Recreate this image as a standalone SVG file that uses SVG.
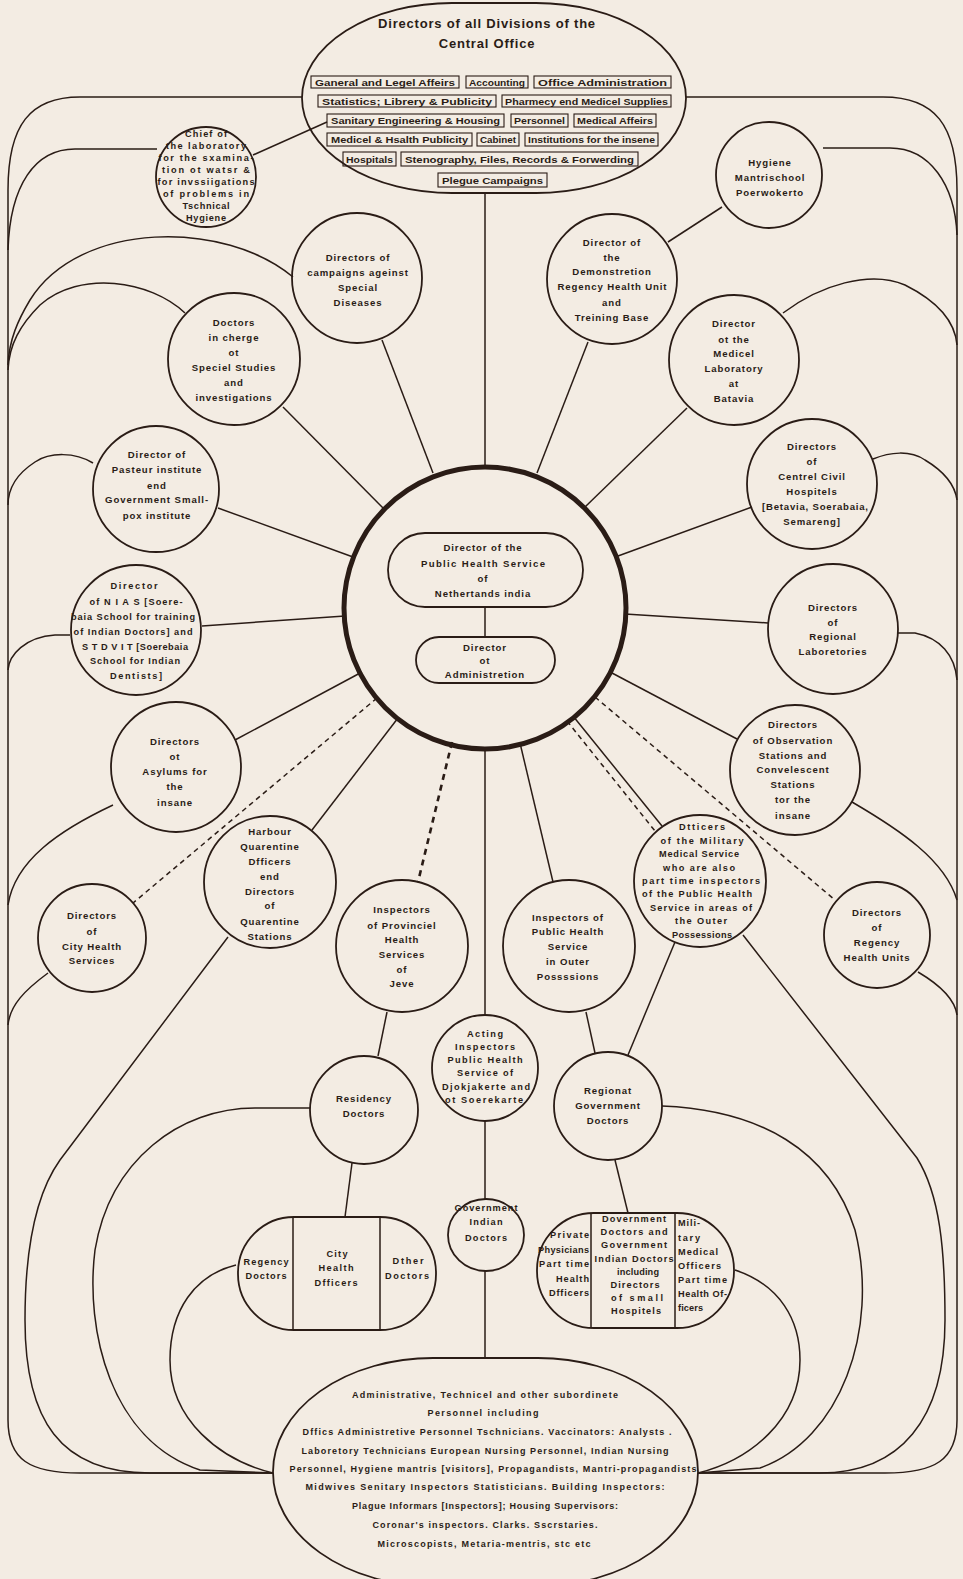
<svg xmlns="http://www.w3.org/2000/svg" width="963" height="1579" viewBox="0 0 963 1579">
<style>
.o{fill:none;stroke:#2a1c16;stroke-width:1.8}
.c{fill:none;stroke:#2a1c16;stroke-width:1.5}
.d{stroke-dasharray:5 4}
.dt{stroke-dasharray:6 5;stroke-width:2.6}
.b{fill:none;stroke:#2a1c16;stroke-width:1.1}
text{font-family:"Liberation Sans",Arial,sans-serif;font-size:9.6px;font-weight:bold;fill:#2a1c16;text-anchor:middle;letter-spacing:0.9px}
.t{font-size:13px;letter-spacing:0.8px}
.s{font-size:9.2px;letter-spacing:0}
.bx{font-size:9.5px;letter-spacing:0}
.e{text-anchor:end}
.st{text-anchor:start}
</style>
<rect width="963" height="1579" fill="#f3ece3"/>

<g id="connectors">
<line class="c" x1="485" y1="193" x2="485" y2="467"/>
<line class="c" x1="382" y1="340" x2="433" y2="473"/>
<line class="c" x1="283" y1="407" x2="383" y2="508"/>
<line class="c" x1="218" y1="508" x2="353" y2="557"/>
<line class="c" x1="202" y1="626" x2="345" y2="616"/>
<line class="c" x1="235" y1="740" x2="362" y2="672"/>
<line class="c d" x1="377" y1="698" x2="133" y2="903"/>
<line class="c" x1="398" y1="718" x2="312" y2="830"/>
<line class="c dt" x1="452" y1="742" x2="418" y2="882"/>
<line class="c" x1="485" y1="749" x2="485" y2="1015"/>
<line class="c" x1="520" y1="743" x2="553" y2="882"/>
<line class="c" x1="573" y1="716" x2="662" y2="826"/>
<line class="c d" x1="567" y1="721" x2="655" y2="831"/>
<line class="c d" x1="595" y1="697" x2="835" y2="900"/>
<line class="c" x1="612" y1="673" x2="737" y2="739"/>
<line class="c" x1="625" y1="614" x2="768" y2="623"/>
<line class="c" x1="618" y1="556" x2="752" y2="507"/>
<line class="c" x1="585" y1="507" x2="687" y2="408"/>
<line class="c" x1="537" y1="473" x2="588" y2="342"/>
<line class="c" x1="668" y1="242" x2="722" y2="207"/>
<line class="c" x1="253" y1="155" x2="327" y2="122"/>
<line class="c" x1="387" y1="1012" x2="378" y2="1056"/>
<line class="c" x1="586" y1="1012" x2="595" y2="1053"/>
<line class="c" x1="675" y1="942" x2="628" y2="1055"/>
<line class="c" x1="485" y1="1121" x2="485" y2="1199"/>
<line class="c" x1="352" y1="1163" x2="345" y2="1217"/>
<line class="c" x1="615" y1="1160" x2="628" y2="1213"/>
<line class="c" x1="485" y1="1271" x2="485" y2="1358"/>
<line class="c" x1="485" y1="607" x2="485" y2="637"/>
<path class="c" d="M302,97 H80 C30,97 8,125 8,190 V1420 C8,1460 30,1473 80,1473 H273"/>
<path class="c" d="M157,149 H75 C35,149 10,185 8,250"/>
<path class="c" d="M293,277 C225,220 80,220 30,300 C18,320 9,340 8,365"/>
<path class="c" d="M185,313 C150,280 80,270 40,305 C20,325 9,345 8,370"/>
<path class="c" d="M93,463 C75,452 50,452 35,462 C15,475 8,490 8,505"/>
<path class="c" d="M70,635 H55 C25,637 9,655 8,670"/>
<path class="c" d="M113,805 C60,830 15,860 8,905"/>
<path class="c" d="M48,973 C25,990 10,1005 8,1025"/>
<path class="c" d="M228,937 L60,1160 C35,1195 25,1250 25,1320 C25,1420 60,1473 150,1473 H273"/>
<path class="c" d="M310,1108 H255 C180,1108 110,1160 95,1250 C85,1330 110,1440 200,1470 L273,1473"/>
<path class="c" d="M236,1265 C195,1275 170,1310 170,1360 C170,1420 220,1460 273,1473"/>
<path class="c" d="M686,97 H883 C935,97 957,125 957,190 V1420 C957,1460 935,1473 885,1473 H698"/>
<path class="c" d="M823,148 H890 C930,148 955,185 957,235"/>
<path class="c" d="M783,313 C820,285 870,270 905,285 C935,300 955,320 957,345"/>
<path class="c" d="M873,459 C890,452 910,450 925,460 C945,472 955,485 957,500"/>
<path class="c" d="M898,633 H915 C940,638 955,655 957,680"/>
<path class="c" d="M852,802 C900,830 945,860 957,900"/>
<path class="c" d="M918,972 C940,985 955,1000 957,1015"/>
<path class="c" d="M743,935 L917,1158 C940,1195 945,1250 945,1320 C945,1420 900,1473 820,1473 H698"/>
<path class="c" d="M662,1106 C760,1110 830,1150 855,1230 C880,1330 840,1440 760,1468 L698,1473"/>
<path class="c" d="M735,1270 C780,1285 800,1320 800,1360 C800,1420 750,1460 698,1473"/>
</g>

<g id="central-office">
<rect class="o" x="302" y="3" width="384" height="190" rx="150" ry="95"/>
<text class="t" x="487" y="28">Directors of all Divisions of the</text>
<text class="t" x="487" y="48">Central Office</text>
<g class="boxes">
<rect class="b" x="311" y="76" width="148" height="12"/><text class="bx" x="385" y="85.5" textLength="140" lengthAdjust="spacingAndGlyphs">Ganeral and Legel Affeirs</text>
<rect class="b" x="466" y="76" width="62" height="12"/><text class="bx" x="497" y="85.5" textLength="56" lengthAdjust="spacingAndGlyphs">Accounting</text>
<rect class="b" x="534" y="76" width="137" height="12"/><text class="bx" x="602.5" y="85.5" textLength="129" lengthAdjust="spacingAndGlyphs">Office Administration</text>
<rect class="b" x="318" y="95" width="178" height="12"/><text class="bx" x="407" y="104.5" textLength="170" lengthAdjust="spacingAndGlyphs">Statistics; Librery &amp; Publicity</text>
<rect class="b" x="502" y="95" width="169" height="12"/><text class="bx" x="586.5" y="104.5" textLength="163" lengthAdjust="spacingAndGlyphs">Pharmecy end Medicel Supplies</text>
<rect class="b" x="327" y="114" width="177" height="13"/><text class="bx" x="415.5" y="124" textLength="169" lengthAdjust="spacingAndGlyphs">Sanitary Engineering &amp; Housing</text>
<rect class="b" x="511" y="114" width="57" height="13"/><text class="bx" x="539.5" y="124" textLength="51" lengthAdjust="spacingAndGlyphs">Personnel</text>
<rect class="b" x="574" y="114" width="82" height="13"/><text class="bx" x="615" y="124" textLength="76" lengthAdjust="spacingAndGlyphs">Medical Affeirs</text>
<rect class="b" x="327" y="133" width="145" height="13"/><text class="bx" x="399.5" y="143" textLength="137" lengthAdjust="spacingAndGlyphs">Medicel &amp; Hsalth Publicity</text>
<rect class="b" x="477" y="133" width="42" height="13"/><text class="bx" x="498" y="143" textLength="36" lengthAdjust="spacingAndGlyphs">Cabinet</text>
<rect class="b" x="525" y="133" width="133" height="13"/><text class="bx" x="591.5" y="143" textLength="127" lengthAdjust="spacingAndGlyphs">Institutions for the insene</text>
<rect class="b" x="343" y="152" width="53" height="14"/><text class="bx" x="369.5" y="162.5" textLength="47" lengthAdjust="spacingAndGlyphs">Hospitals</text>
<rect class="b" x="401" y="152" width="237" height="14"/><text class="bx" x="519.5" y="162.5" textLength="229" lengthAdjust="spacingAndGlyphs">Stenography, Files, Records &amp; Forwerding</text>
<rect class="b" x="438" y="173" width="109" height="14"/><text class="bx" x="492.5" y="183.5" textLength="101" lengthAdjust="spacingAndGlyphs">Plegue Campaigns</text>
</g>
</g>

<g id="chief-laboratory">
<circle class="o" cx="206" cy="177" r="50"/>
<text class="s"><tspan x="206" y="137" textLength="42">Chief of</tspan><tspan x="206" y="149" textLength="80">the laboratory</tspan><tspan x="206" y="161" textLength="95">for the sxamina-</tspan><tspan x="206" y="173" textLength="88">tion ot watsr &amp;</tspan><tspan x="206" y="185" textLength="97">for invssiigations</tspan><tspan x="206" y="197" textLength="86">of problems in</tspan><tspan x="206" y="209" textLength="47">Tschnical</tspan><tspan x="206" y="221" textLength="40">Hygiene</tspan></text>
</g>

<g id="hygiene-mantrischool">
<circle class="o" cx="769" cy="175" r="53"/>
<text><tspan x="770" y="165.5">Hygiene</tspan><tspan x="770" y="180.5">Mantrischool</tspan><tspan x="770" y="195.5">Poerwokerto</tspan></text>
</g>

<g id="campaigns">
<circle class="o" cx="357" cy="278" r="65"/>
<text><tspan x="358" y="260.5">Directors of</tspan><tspan x="358" y="275.5">campaigns ageinst</tspan><tspan x="358" y="290.5">Special</tspan><tspan x="358" y="305.5">Diseases</tspan></text>
</g>

<g id="special-studies">
<circle class="o" cx="234" cy="359" r="66"/>
<text><tspan x="234" y="325.5">Doctors</tspan><tspan x="234" y="340.5">in cherge</tspan><tspan x="234" y="355.5">ot</tspan><tspan x="234" y="370.5">Speciel Studies</tspan><tspan x="234" y="385.5">and</tspan><tspan x="234" y="400.5">investigations</tspan></text>
</g>

<g id="pasteur">
<circle class="o" cx="156" cy="489" r="63"/>
<text><tspan x="157" y="457.5">Director of</tspan><tspan x="157" y="472.5">Pasteur institute</tspan><tspan x="157" y="488.5">end</tspan><tspan x="157" y="502.5" textLength="104">Government Small-</tspan><tspan x="157" y="518.5">pox institute</tspan></text>
</g>

<g id="nias">
<circle class="o" cx="136" cy="630" r="65"/>
<text class="s"><tspan x="134" y="588.5" textLength="47">Director</tspan><tspan x="136" y="604.5" textLength="93">of N I A S [Soere-</tspan><tspan x="133" y="619.5" textLength="124">baia School for training</tspan><tspan x="133" y="634.5" textLength="119">of Indian Doctors] and</tspan><tspan x="135" y="649.5" textLength="106">S T D V I T [Soerebaia</tspan><tspan x="135" y="663.5" textLength="90">School for Indian</tspan><tspan x="136" y="678.5" textLength="52">Dentists]</tspan></text>
</g>

<g id="asylums">
<circle class="o" cx="176" cy="767" r="65"/>
<text><tspan x="175" y="744.5">Directors</tspan><tspan x="175" y="759.5">ot</tspan><tspan x="175" y="774.5">Asylums for</tspan><tspan x="175" y="789.5">the</tspan><tspan x="175" y="805.5">insane</tspan></text>
</g>

<g id="harbour">
<circle class="o" cx="270" cy="882" r="66"/>
<text><tspan x="270" y="834.5">Harbour</tspan><tspan x="270" y="849.5">Quarentine</tspan><tspan x="270" y="864.5">Dfficers</tspan><tspan x="270" y="879.5">end</tspan><tspan x="270" y="894.5">Directors</tspan><tspan x="270" y="908.5">of</tspan><tspan x="270" y="924.5">Quarentine</tspan><tspan x="270" y="939.5">Stations</tspan></text>
</g>

<g id="city-health">
<circle class="o" cx="92" cy="938" r="54"/>
<text><tspan x="92" y="918.5">Directors</tspan><tspan x="92" y="934.5">of</tspan><tspan x="92" y="949.5">City Health</tspan><tspan x="92" y="963.5">Services</tspan></text>
</g>

<g id="provincial">
<circle class="o" cx="402" cy="946" r="66"/>
<text><tspan x="402" y="912.5">Inspectors</tspan><tspan x="402" y="928.5">of Provinciel</tspan><tspan x="402" y="942.5">Health</tspan><tspan x="402" y="957.5">Services</tspan><tspan x="402" y="972.5">of</tspan><tspan x="402" y="986.5">Jeve</tspan></text>
</g>

<g id="residency">
<circle class="o" cx="364" cy="1110" r="54"/>
<text><tspan x="364" y="1101.5">Residency</tspan><tspan x="364" y="1116.5">Doctors</tspan></text>
</g>

<g id="acting">
<circle class="o" cx="485" cy="1068" r="53"/>
<text class="s"><tspan x="485" y="1037" textLength="36">Acting</tspan><tspan x="485" y="1050" textLength="60">Inspectors</tspan><tspan x="485" y="1063" textLength="75">Public Health</tspan><tspan x="485" y="1076" textLength="56">Service of</tspan><tspan x="486" y="1090" textLength="88">Djokjakerte and</tspan><tspan x="484" y="1103" textLength="78">ot Soerekarte</tspan></text>
</g>

<g id="outer-possessions">
<circle class="o" cx="569" cy="946" r="66"/>
<text><tspan x="568" y="920.5">Inspectors of</tspan><tspan x="568" y="934.5">Public Health</tspan><tspan x="568" y="949.5">Service</tspan><tspan x="568" y="964.5">in Outer</tspan><tspan x="568" y="979.5">Possssions</tspan></text>
</g>

<g id="military">
<circle class="o" cx="700" cy="881" r="66"/>
<text class="s"><tspan x="702" y="830" textLength="46">Dtticers</tspan><tspan x="702" y="844" textLength="83">of the Military</tspan><tspan x="699" y="857" textLength="80">Medical Service</tspan><tspan x="699" y="871" textLength="72">who are also</tspan><tspan x="701" y="884" textLength="118">part time inspectors</tspan><tspan x="697" y="897" textLength="110">of the Public Health</tspan><tspan x="701" y="911" textLength="102">Service in areas of</tspan><tspan x="701" y="924" textLength="52">the Outer</tspan><tspan x="702" y="938" textLength="60">Possessions</tspan></text>
</g>

<g id="regency-units">
<circle class="o" cx="877" cy="935" r="53"/>
<text><tspan x="877" y="915.5">Directors</tspan><tspan x="877" y="930.5">of</tspan><tspan x="877" y="945.5">Regency</tspan><tspan x="877" y="960.5">Health Units</tspan></text>
</g>

<g id="regional-doctors">
<circle class="o" cx="608" cy="1106" r="54"/>
<text><tspan x="608" y="1093.5">Regionat</tspan><tspan x="608" y="1108.5">Government</tspan><tspan x="608" y="1123.5">Doctors</tspan></text>
</g>

<g id="observation">
<circle class="o" cx="795" cy="770" r="65"/>
<text><tspan x="793" y="727.5">Directors</tspan><tspan x="793" y="743.5">of Observation</tspan><tspan x="793" y="758.5">Stations and</tspan><tspan x="793" y="772.5">Convelescent</tspan><tspan x="793" y="787.5">Stations</tspan><tspan x="793" y="802.5">tor the</tspan><tspan x="793" y="818.5">insane</tspan></text>
</g>

<g id="regional-labs">
<circle class="o" cx="833" cy="629" r="65"/>
<text><tspan x="833" y="610.5">Directors</tspan><tspan x="833" y="625.5">of</tspan><tspan x="833" y="639.5">Regional</tspan><tspan x="833" y="654.5">Laboretories</tspan></text>
</g>

<g id="civil-hospitals">
<circle class="o" cx="812" cy="484" r="65"/>
<text><tspan x="812" y="449.5">Directors</tspan><tspan x="812" y="464.5">of</tspan><tspan x="812" y="479.5">Centrel Civil</tspan><tspan x="812" y="494.5">Hospitels</tspan><tspan x="815" y="509.5" textLength="106" style="letter-spacing:0">[Betavia, Soerabaia,</tspan><tspan x="812" y="524.5">Semareng]</tspan></text>
</g>

<g id="medical-lab">
<circle class="o" cx="734" cy="360" r="65"/>
<text><tspan x="734" y="326.5">Director</tspan><tspan x="734" y="342.5">ot the</tspan><tspan x="734" y="356.5">Medicel</tspan><tspan x="734" y="371.5">Laboratory</tspan><tspan x="734" y="386.5">at</tspan><tspan x="734" y="401.5">Batavia</tspan></text>
</g>

<g id="demonstration">
<circle class="o" cx="612" cy="279" r="65"/>
<text><tspan x="612" y="245.5">Director of</tspan><tspan x="612" y="260.5">the</tspan><tspan x="612" y="274.5">Demonstretion</tspan><tspan x="612" y="289.5" textLength="109" style="letter-spacing:0">Regency Health Unit</tspan><tspan x="612" y="305.5">and</tspan><tspan x="612" y="320.5">Treining Base</tspan></text>
</g>

<g id="director-public-health">
<circle cx="485" cy="608" r="141" fill="none" stroke="#2a1c16" stroke-width="5"/>
<rect class="o" x="388" y="533" width="195" height="74" rx="37"/>
<text><tspan x="483" y="550.5">Director of the</tspan><tspan x="483" y="566.5" textLength="124" style="letter-spacing:0">Public Health Service</tspan><tspan x="483" y="581.5">of</tspan><tspan x="483" y="596.5">Nethertands india</tspan></text>
</g>

<g id="director-administration">
<rect class="o" x="416" y="637" width="139" height="46" rx="23"/>
<text><tspan x="485" y="650.5">Director</tspan><tspan x="485" y="663.5">ot</tspan><tspan x="485" y="677.5">Administretion</tspan></text>
</g>

<g id="city-doctors-group">
<rect class="o" x="238" y="1217" width="198" height="113" rx="56"/>
<line class="c" x1="293" y1="1217" x2="293" y2="1330"/>
<line class="c" x1="380" y1="1217" x2="380" y2="1330"/>
<text class="s"><tspan x="266" y="1265" textLength="45">Regency</tspan><tspan x="266" y="1279" textLength="41">Doctors</tspan><tspan x="337" y="1257" textLength="21">City</tspan><tspan x="336" y="1271" textLength="35">Health</tspan><tspan x="336" y="1286" textLength="43">Dfficers</tspan><tspan x="408" y="1264" textLength="31">Dther</tspan><tspan x="407" y="1279" textLength="44">Doctors</tspan></text>
</g>

<g id="government-indian-doctors">
<ellipse class="o" cx="486" cy="1235" rx="38" ry="36"/>
<text class="s"><tspan x="486" y="1211" textLength="63">Government</tspan><tspan x="486" y="1225" textLength="33">Indian</tspan><tspan x="486" y="1241" textLength="42">Doctors</tspan></text>
</g>

<g id="physicians-group">
<rect class="o" x="537" y="1213" width="197" height="115" rx="57"/>
<line class="c" x1="591" y1="1213" x2="591" y2="1328"/>
<line class="c" x1="675" y1="1213" x2="675" y2="1328"/>
<text class="s e"><tspan x="589" y="1238" textLength="39">Private</tspan><tspan x="589" y="1253" textLength="51">Physicians</tspan><tspan x="589" y="1267" textLength="50">Part time</tspan><tspan x="589" y="1282" textLength="33">Health</tspan><tspan x="589" y="1296" textLength="40">Dfficers</tspan></text>
<text class="s"><tspan x="634" y="1222" textLength="64">Dovernment</tspan><tspan x="634" y="1235" textLength="67">Doctors and</tspan><tspan x="634" y="1248" textLength="66">Government</tspan><tspan x="634" y="1262" textLength="79">Indian Doctors</tspan><tspan x="638" y="1275" textLength="42">including</tspan><tspan x="635" y="1288" textLength="49">Directors</tspan><tspan x="637" y="1301" textLength="52">of small</tspan><tspan x="636" y="1314" textLength="50">Hospitels</tspan></text>
<text class="s st"><tspan x="678" y="1226" textLength="22">Mili-</tspan><tspan x="678" y="1241" textLength="22">tary</tspan><tspan x="678" y="1255" textLength="40">Medical</tspan><tspan x="678" y="1269" textLength="43">Officers</tspan><tspan x="678" y="1283" textLength="49">Part time</tspan><tspan x="678" y="1297" textLength="49">Health Of-</tspan><tspan x="678" y="1311" textLength="25">ficers</tspan></text>
</g>

<g id="subordinate-personnel">
<rect class="o" x="273" y="1358" width="425" height="228" rx="160" ry="114"/>
<text class="s" style="font-size:9px"><tspan x="485" y="1398" textLength="266">Administrative, Technicel and other subordinete</tspan><tspan x="483" y="1416" textLength="111">Personnel including</tspan><tspan x="487" y="1435" textLength="369">Dffics Administretive Personnel  Tschnicians. Vaccinators: Analysts .</tspan><tspan x="485" y="1454" textLength="367">Laboretory Technicians  European Nursing Personnel, Indian Nursing</tspan><tspan x="493" y="1472" textLength="407">Personnel, Hygiene mantris [visitors], Propagandists, Mantri-propagandists</tspan><tspan x="485" y="1490" textLength="359">Midwives Senitary Inspectors Statisticians. Building Inspectors:</tspan><tspan x="485" y="1509" textLength="266">Plague Informars [Inspectors]; Housing Supervisors:</tspan><tspan x="485" y="1528" textLength="225">Coronar's inspectors. Clarks. Sscrstaries.</tspan><tspan x="484" y="1547" textLength="213">Microscopists, Metaria-mentris, stc etc</tspan></text>
</g>
</svg>
